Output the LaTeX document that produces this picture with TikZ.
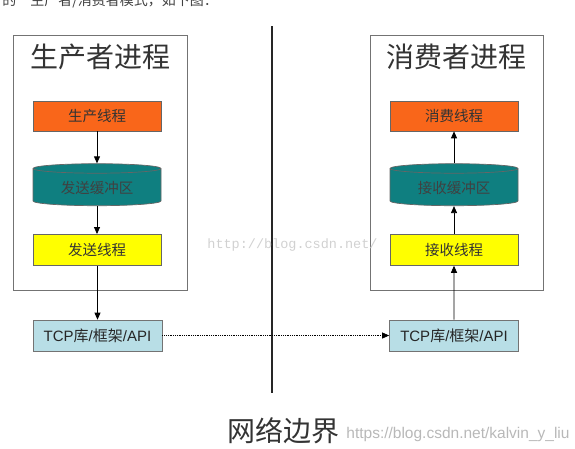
\documentclass[tikz,border=0pt]{standalone}
\usepackage{fontspec}
\setmainfont{Noto Sans CJK SC}
\newfontfamily\latinsans{Liberation Sans}
\newfontfamily\latinmono{Liberation Mono}
\newfontfamily\cjkfont{Noto Sans CJK SC}
\usetikzlibrary{shapes.geometric}
\usetikzlibrary{positioning}
\usetikzlibrary{arrows.meta}

\definecolor{prodorange}{HTML}{F9661A}
\definecolor{bufteal}{HTML}{0F7F80}
\definecolor{thryellow}{HTML}{FFFF00}
\definecolor{tcpblue}{HTML}{B8DEE6}

\newcommand{\tcplabel}{TCP{\cjkfont 库}/{\cjkfont 框架}/API}

\begin{document}
\begin{tikzpicture}
		[x=1pt, y=-1pt, thick, line width=0.8pt,
		 proc/.style = {draw=black!55, line width=0.7pt, minimum width=174pt, minimum height=255pt},
		 title/.style = {font=\fontsize{28}{30}\selectfont, text=black!80},
		 task/.style = {draw=black!60, line width=0.7pt, minimum width=128pt, minimum height=30pt, font=\fontsize{14.5}{16}\selectfont, text=black!80},
		 buf/.style = {draw=black!60, line width=0.7pt, fill=bufteal, shape=cylinder, shape border rotate=90, aspect=0.12, minimum width=128pt, minimum height=42pt, font=\fontsize{14.5}{16}\selectfont, text=black!75},
		 tcp/.style = {draw=black!55, line width=0.7pt, fill=tcpblue, minimum width=129pt, minimum height=31pt, font=\latinsans\fontsize{15}{17}\selectfont, text=black!85},
		 flow/.style = {-{Triangle[length=7pt,width=6pt]}, line width=0.8pt}]
        \useasboundingbox (0,0) rectangle (575,448);

        % cut-off line of the page above
        \node[anchor=base west, inner sep=0pt, font=\fontsize{14}{16}\selectfont, text=black!75] (intro) at (2,5) {的`生产者/消费者模式，如下图：};

        % processes
        \node[proc] (left) at (100,162.5) {};
        \node[proc, minimum width=173pt] (right) at (456.5,162.5) {};
        \node[title] (ltitle) at (100,57) {生产者进程};
        \node[title] (rtitle) at (456,57) {消费者进程};

        \node[task, fill=prodorange] (prod) at (97,116) {生产线程};
        \node[buf] (sendbuf) [below = 32pt of prod] {发送缓冲区};
        \node[task, fill=thryellow, minimum height=31pt] (send) [below = 28pt of sendbuf] {发送线程};
        \node[tcp] (ltcp) at (97.5,335.5) {\tcplabel};

        \node[task, fill=prodorange] (cons) at (454,116) {消费线程};
        \node[buf] (recvbuf) [below = 32pt of cons] {接收缓冲区};
        \node[task, fill=thryellow, minimum height=31pt] (recv) [below = 28pt of recvbuf] {接收线程};
        \node[tcp] (rtcp) at (454,335.5) {\tcplabel};

        % network border
        \coordinate (btop) at (272,26);
        \coordinate (bbot) at (272,393);
        \draw[line width=1.6pt, black!85] (btop) -- (bbot);
        \node[title] (border) at (283,431) {网络边界};

        \draw[flow] (prod) -- (sendbuf);
        \draw[flow] (sendbuf) -- (send);
        \draw[flow] (send.south -| ltcp.north) -- (ltcp);
        \draw[flow] (rtcp) -- (recv);
        \draw[flow] (recv) -- (recvbuf);
        \draw[flow] (recvbuf) -- (cons);
        \draw[flow, densely dotted, line width=0.7pt] (ltcp) -- (rtcp);

        % watermarks
        \node[anchor=base west, inner sep=0pt, font=\latinmono\fontsize{13.5}{15}\selectfont, text=black!18] (wm1) at (207,248) {http://blog.csdn.net/};
        \node[anchor=base west, inner sep=0pt, font=\latinsans\fontsize{15.5}{17}\selectfont, text=black!28] (wm2) at (346,438) {https://blog.csdn.net/kalvin\_y\_liu};
	\end{tikzpicture}
\end{document}
